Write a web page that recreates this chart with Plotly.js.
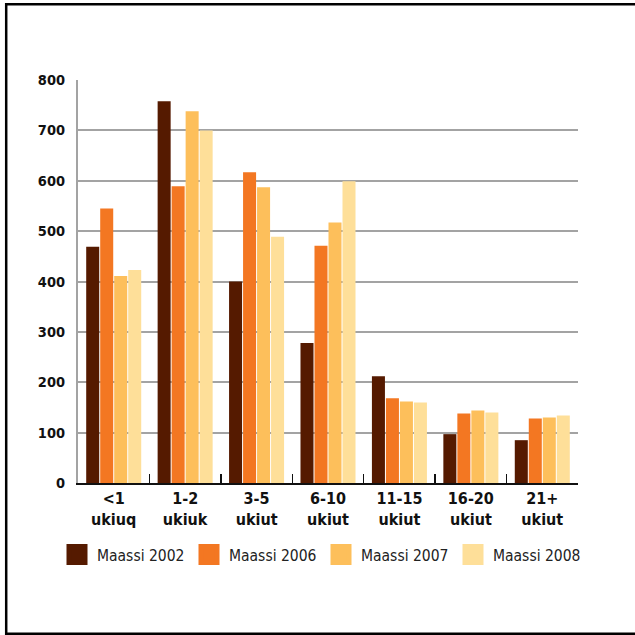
<!DOCTYPE html>
<html>
<head>
<meta charset="utf-8">
<script src="https://cdn.plot.ly/plotly-3.0.1.min.js"></script>
<style>
  html, body { margin: 0; padding: 0; background: #fff; }
  #chart { width: 635px; height: 635px; }
</style>
</head>
<body>
<div id="chart"></div>
<script>
// Categories (tick labels, two lines each)
const categories = ["<1 ukiuq", "1-2 ukiuk", "3-5 ukiut", "6-10 ukiut", "11-15 ukiut", "16-20 ukiut", "21+ ukiut"];
const tickLines1 = ["&lt;1", "1-2", "3-5", "6-10", "11-15", "16-20", "21+"];
const tickLines2 = ["ukiuq", "ukiuk", "ukiut", "ukiut", "ukiut", "ukiut", "ukiut"];

// Series
const seriesNames = ["Maassi 2002", "Maassi 2006", "Maassi 2007", "Maassi 2008"];
const maassi2002 = [469, 758, 400, 278, 212, 97, 85];
const maassi2006 = [545, 589, 617, 471, 168, 138, 128];
const maassi2007 = [411, 738, 587, 517, 162, 144, 130];
const maassi2008 = [423, 700, 489, 599, 160, 140, 134];
const seriesValues = [maassi2002, maassi2006, maassi2007, maassi2008];
const seriesColors = ["#551a00", "#f37722", "#fdbf5b", "#fedf99"];

const yTicks = [0, 100, 200, 300, 400, 500, 600, 700, 800];

const FONT = '"DejaVu Sans Condensed", "Liberation Sans Narrow", "Liberation Sans", sans-serif';

const traces = [];
seriesValues.forEach((vals, i) => {
  traces.push({
    type: "bar",
    x: categories,
    y: vals,
    name: seriesNames[i],
    marker: { color: seriesColors[i], line: { width: 0 } },
    showlegend: false,
    hoverinfo: "skip"
  });
});
// legend proxies (larger square swatches)
seriesValues.forEach((vals, i) => {
  traces.push({
    type: "scatter",
    mode: "markers",
    x: [null],
    y: [null],
    name: seriesNames[i],
    marker: { symbol: "square", size: 16, color: seriesColors[i], line: { width: 5, color: seriesColors[i] } },
    showlegend: true,
    hoverinfo: "skip"
  });
});

const ticktext = tickLines1.map((t, i) => t + "<br>" + tickLines2[i]);

const pxToPaperX = px => (px - 78) / 500;
const pxToPaperY = py => (483 - py) / 403;

const layout = {
  width: 635,
  height: 635,
  margin: { l: 78, r: 57, t: 80, b: 152, pad: 0 },
  paper_bgcolor: "#ffffff",
  plot_bgcolor: "#ffffff",
  barmode: "group",
  bargap: 0.216,
  bargroupgap: 0.07,
  showlegend: true,
  font: { family: FONT, color: "#111" },
  xaxis: {
    type: "category",
    tickmode: "array",
    tickvals: categories,
    ticktext: ticktext,
    tickson: "boundaries",
    ticks: "inside",
    ticklen: 9,
    tickwidth: 1.5,
    tickcolor: "#111",
    showline: true,
    linecolor: "#111",
    linewidth: 2,
    showgrid: false,
    zeroline: false,
    tickfont: { family: FONT, size: 16, color: "#111", weight: "bold" },
    fixedrange: true
  },
  yaxis: {
    range: [0, 800],
    tickmode: "array",
    tickvals: yTicks,
    ticks: "",
    showline: true,
    linecolor: "#a3a3a3",
    linewidth: 2,
    showgrid: true,
    gridcolor: "#a3a3a3",
    gridwidth: 2,
    zeroline: false,
    ticklabelstandoff: 8,
    tickfont: { family: FONT, size: 14.5, color: "#111", weight: "bold" },
    fixedrange: true
  },
  legend: {
    orientation: "h",
    x: pxToPaperX(57),
    xanchor: "left",
    y: pxToPaperY(555),
    yanchor: "middle",
    entrywidth: 87,
    entrywidthmode: "pixels",
    font: { family: FONT, size: 15.5, color: "#222" },
    bgcolor: "rgba(0,0,0,0)",
    borderwidth: 0
  },
  shapes: [
    { type: "line", xref: "paper", yref: "paper", x0: pxToPaperX(6), x1: pxToPaperX(700), y0: pxToPaperY(4.3), y1: pxToPaperY(4.3), line: { color: "#000", width: 2.5 } },
    { type: "line", xref: "paper", yref: "paper", x0: pxToPaperX(6.2), x1: pxToPaperX(6.2), y0: pxToPaperY(3), y1: pxToPaperY(640), line: { color: "#000", width: 2.5 } },
    { type: "line", xref: "paper", yref: "paper", x0: pxToPaperX(5), x1: pxToPaperX(700), y0: pxToPaperY(633.8), y1: pxToPaperY(633.8), line: { color: "#000", width: 2.5 } }
  ]
};

Plotly.newPlot("chart", traces, layout, { staticPlot: true, displayModeBar: false });
</script>
</body>
</html>
